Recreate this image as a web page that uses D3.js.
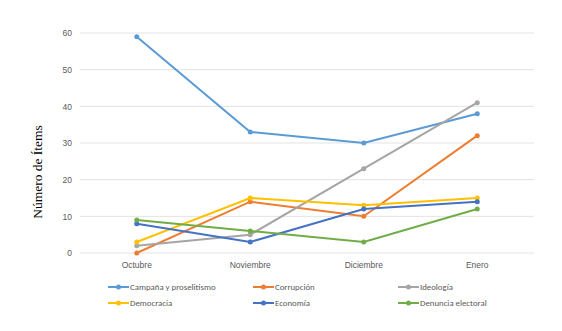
<!DOCTYPE html>
<html>
<head>
<meta charset="utf-8">
<script src="https://cdn.jsdelivr.net/npm/d3@7"></script>
<style>
  body { margin: 0; background: #fff; }
  svg { display: block; font-family: Calibri, Carlito, "Liberation Sans", Arial, sans-serif; }
</style>
</head>
<body>
<svg id="chart"></svg>
<script>
const months = ["Octubre", "Noviembre", "Diciembre", "Enero"];
const seriesNames = ["Campaña y proselitismo", "Corrupción", "Ideología", "Democracia", "Economía", "Denuncia electoral"];
const campana = [59, 33, 30, 38];
const corrupcion = [0, 14, 10, 32];
const ideologia = [2, 5, 23, 41];
const democracia = [3, 15, 13, 15];
const economia = [8, 3, 12, 14];
const denuncia = [9, 6, 3, 12];
const yTicks = [0, 10, 20, 30, 40, 50, 60];
const colors = ["#5B9BD5", "#ED7D31", "#A5A5A5", "#FFC000", "#4472C4", "#70AD47"];

const width = 562, height = 331;
const margin = { top: 33, right: 28, bottom: 78, left: 80 };
const w = width - margin.left - margin.right;
const h = height - margin.top - margin.bottom;

const allSeries = [campana, corrupcion, ideologia, democracia, economia, denuncia];

const svg = d3.select("#chart").attr("width", width).attr("height", height);
const g = svg.append("g").attr("transform", `translate(${margin.left},${margin.top})`);

const x = d3.scaleBand().domain(months).range([0, w]);
const y = d3.scaleLinear().domain([0, 60]).range([h, 0]);

// gridlines
g.selectAll("line.grid")
    .data(yTicks)
    .join("line")
    .attr("class", "grid")
    .attr("x1", 0).attr("x2", w)
    .attr("y1", d => y(d)).attr("y2", d => y(d))
    .attr("stroke", "#E3E3E3")
    .attr("stroke-width", 1);

// y axis
const yAxis = g.append("g")
    .call(d3.axisLeft(y).tickValues(yTicks).tickSize(0).tickPadding(8));
yAxis.select(".domain").remove();
yAxis.selectAll(".tick text").attr("fill", "#595959").style("font-size", "8.5px");

// x axis
const xAxis = g.append("g")
    .attr("transform", `translate(0,${h})`)
    .call(d3.axisBottom(x).tickSize(0).tickPadding(9));
xAxis.select(".domain").remove();
xAxis.selectAll(".tick text").attr("fill", "#595959").style("font-size", "8.5px");

// y title
svg.append("text")
    .attr("transform", "translate(42,172) rotate(-90)")
    .attr("text-anchor", "middle")
    .style("font-family", "'Liberation Serif', 'Times New Roman', serif")
    .style("font-size", "13.5px")
    .attr("fill", "#000")
    .text("Número de Ítems");

const line = d3.line()
    .x((d, i) => x(months[i]) + x.bandwidth() / 2)
    .y(d => y(d));

allSeries.forEach((vals, k) => {
    g.append("path")
        .attr("d", line(vals))
        .attr("fill", "none")
        .attr("stroke", colors[k])
        .attr("stroke-width", 2);
    g.selectAll(null)
        .data(vals)
        .join("circle")
        .attr("cx", (d, i) => x(months[i]) + x.bandwidth() / 2)
        .attr("cy", d => y(d))
        .attr("r", 2.5)
        .attr("fill", colors[k]);
});

// legend
const legCols = [108, 253, 398];
const legRows = [287, 303];
const legend = svg.append("g");
seriesNames.forEach((name, k) => {
    const lx = legCols[k % 3], ly = legRows[Math.floor(k / 3)];
    const item = legend.append("g").attr("transform", `translate(${lx},${ly})`);
    item.append("line").attr("x1", 0).attr("x2", 21).attr("y1", 0).attr("y2", 0)
        .attr("stroke", colors[k]).attr("stroke-width", 2);
    item.append("circle").attr("cx", 10.5).attr("cy", 0).attr("r", 2.5).attr("fill", colors[k]);
    item.append("text").attr("x", 22).attr("y", 0).attr("dy", "0.35em")
        .attr("fill", "#595959").style("font-size", "8.8px").text(name);
});
</script>
</body>
</html>
